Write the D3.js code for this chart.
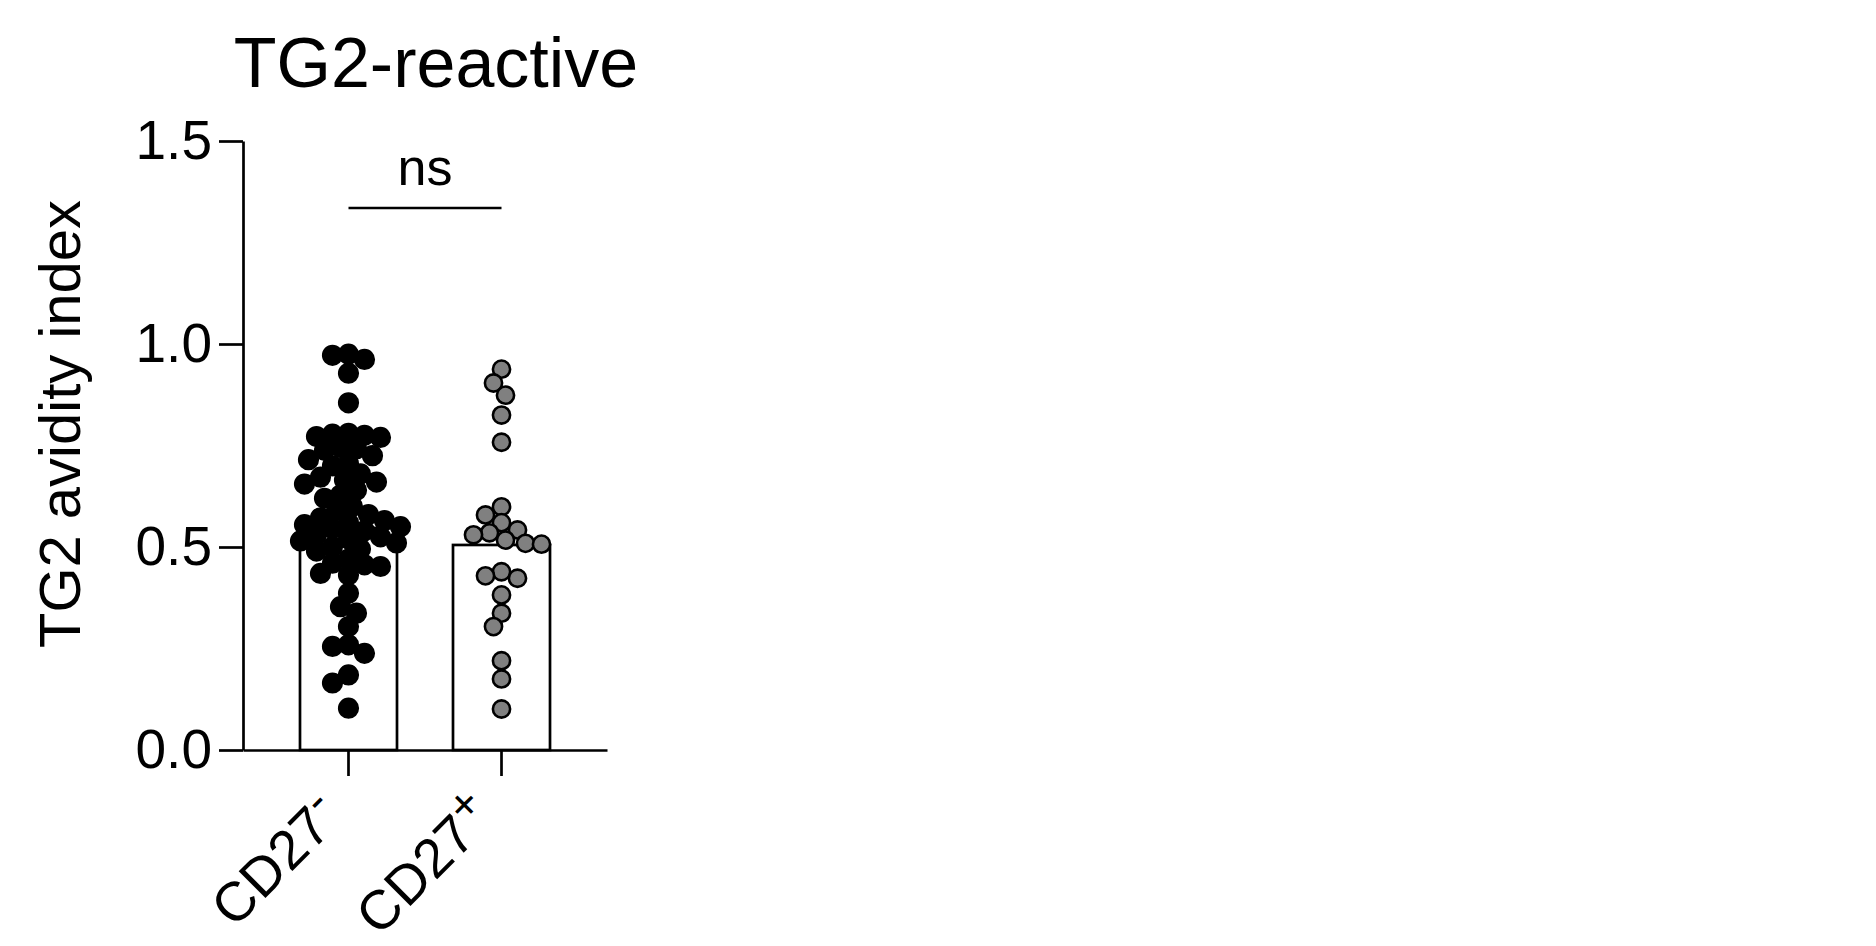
<!DOCTYPE html>
<html lang="en">
<head>
    <meta charset="UTF-8">
    <title>TG2-reactive avidity index</title>
    <script src="https://d3js.org/d3.v7.min.js"></script>
    <style>
        body {
            margin: 0;
            background-color: #ffffff;
        }
        svg {
            display: block;
            font-family: 'Liberation Sans', Arial, sans-serif;
        }
        .axis path,
        .axis line {
            stroke: #000;
            stroke-width: 2.7px;
        }
        .axis text {
            font-size: 55px;
            fill: #000;
        }
    </style>
</head>
<body>
    <div id="chart"></div>
    <script>
        // values
        const categories = ["CD27-", "CD27+"];
        const barValues = [0.547, 0.505];
        const yTicks = [0, 0.5, 1.0, 1.5];

        const cd27Neg = [
            0.975, 0.972, 0.962, 0.928, 0.855,
            0.78, 0.778, 0.775, 0.772, 0.77,
            0.745, 0.742, 0.738,
            0.725, 0.715, 0.705, 0.70,
            0.68, 0.672, 0.665, 0.66, 0.655,
            0.64, 0.628, 0.62,
            0.60, 0.59, 0.58,
            0.572, 0.565, 0.56, 0.555, 0.55, 0.545,
            0.54, 0.53, 0.525, 0.52, 0.515, 0.51,
            0.50, 0.495, 0.49,
            0.47, 0.46, 0.456, 0.452,
            0.435, 0.431,
            0.386, 0.353, 0.337, 0.304, 0.259, 0.255, 0.238, 0.185, 0.165, 0.103
        ];
        const cd27Pos = [
            0.938, 0.904, 0.874, 0.825, 0.758,
            0.599, 0.579, 0.56, 0.542, 0.535, 0.53,
            0.517, 0.509, 0.507,
            0.439, 0.429, 0.423, 0.382, 0.337, 0.304,
            0.22, 0.175, 0.101
        ];
        const groups = [cd27Neg, cd27Pos];
        const dotFill = ["#000000", "#808080"];
        const dotR = [9.3, 8.6];

        const width = 1876, height = 946;
        const svg = d3.select("#chart")
            .append("svg")
            .attr("width", width)
            .attr("height", height);

        const x = d3.scaleBand()
            .domain(categories)
            .range([243, 607])
            .paddingInner(0.366)
            .paddingOuter(0.3725);

        const y = d3.scaleLinear()
            .domain([0, 1.5])
            .range([750, 141]);

        // bars
        svg.selectAll(".bar")
            .data(categories)
            .enter()
            .append("rect")
            .attr("class", "bar")
            .attr("x", d => x(d))
            .attr("width", x.bandwidth())
            .attr("y", (d, i) => y(barValues[i]))
            .attr("height", (d, i) => y(0) - y(barValues[i]))
            .attr("fill", "#fff")
            .attr("stroke", "#000")
            .attr("stroke-width", 2.7);

        // simple beeswarm so points don't sit on top of each other
        function swarm(values, cx) {
            const minD = 15.5;
            const placed = [];
            const pts = values.map(v => ({ v: v, py: y(v) }))
                .sort((a, b) => b.v - a.v);
            pts.forEach(p => {
                for (let k = 0; k < 60; k++) {
                    const off = (k % 2 ? -1 : 1) * Math.ceil(k / 2) * 4;
                    const ok = placed.every(q => {
                        const dx = q.px - (cx + off), dy = q.py - p.py;
                        return dx * dx + dy * dy >= minD * minD;
                    });
                    if (ok) { p.px = cx + off; break; }
                }
                placed.push(p);
            });
            return pts;
        }

        groups.forEach((vals, i) => {
            const cx = x(categories[i]) + x.bandwidth() / 2;
            svg.append("g")
                .selectAll("circle")
                .data(swarm(vals, cx))
                .enter()
                .append("circle")
                .attr("cx", d => d.px)
                .attr("cy", d => d.py)
                .attr("r", dotR[i])
                .attr("fill", dotFill[i])
                .attr("stroke", "#000")
                .attr("stroke-width", 2.6);
        });

        // axes
        svg.append("g")
            .attr("class", "axis")
            .attr("transform", "translate(243,0)")
            .call(d3.axisLeft(y).tickValues(yTicks).tickFormat(d3.format(".1f"))
                .tickSize(24).tickSizeOuter(0).tickPadding(7));

        const xAxis = svg.append("g")
            .attr("class", "axis")
            .attr("transform", "translate(0,750)")
            .call(d3.axisBottom(x).tickSize(26).tickSizeOuter(0));

        xAxis.selectAll(".tick text")
            .attr("y", 0)
            .attr("dy", 0)
            .attr("text-anchor", "end")
            .attr("transform", "translate(-4,69) rotate(-45)")
            .each(function(d) {
                const t = d3.select(this).text("");
                t.append("tspan").text(d.slice(0, -1));
                t.append("tspan")
                    .attr("font-size", "46px")
                    .attr("dy", "-0.4em")
                    .text(d.slice(-1));
            });

        // significance bracket
        const x1 = x(categories[0]) + x.bandwidth() / 2;
        const x2 = x(categories[1]) + x.bandwidth() / 2;
        svg.append("line")
            .attr("x1", x1).attr("x2", x2)
            .attr("y1", 208).attr("y2", 208)
            .attr("stroke", "#000")
            .attr("stroke-width", 2.4);
        svg.append("text")
            .attr("x", (x1 + x2) / 2)
            .attr("y", 185)
            .attr("text-anchor", "middle")
            .attr("font-size", "52px")
            .text("ns");

        // title and y label
        svg.append("text")
            .attr("x", 436)
            .attr("y", 87)
            .attr("text-anchor", "middle")
            .attr("font-size", "70px")
            .text("TG2-reactive");

        svg.append("text")
            .attr("transform", "translate(80,424) rotate(-90)")
            .attr("text-anchor", "middle")
            .attr("font-size", "58px")
            .text("TG2 avidity index");
    </script>
</body>
</html>
